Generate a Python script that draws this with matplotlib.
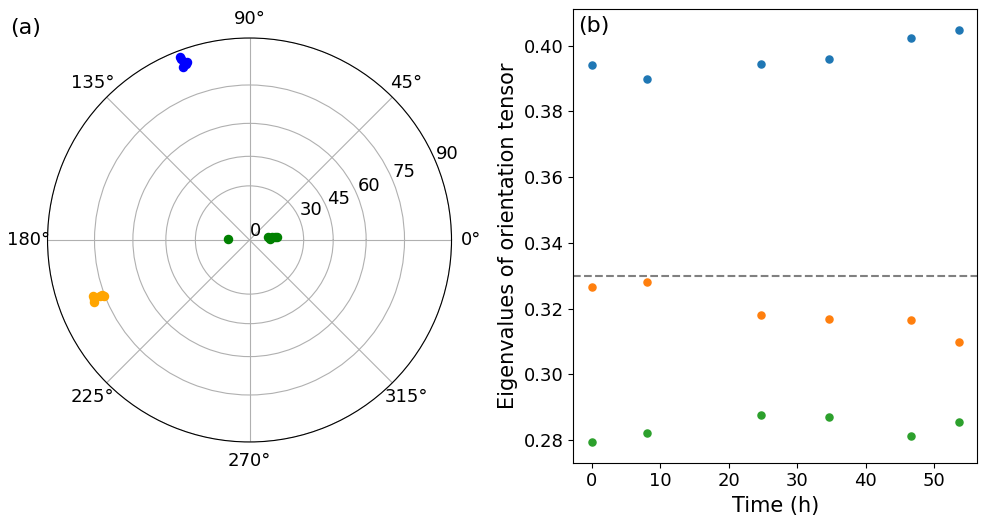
import matplotlib
matplotlib.use("Agg")
import matplotlib.pyplot as plt
import numpy as np

# eigenvector directions (azimuth in degrees, angle from pole in degrees)
v1_azim = [110.8, 110.3, 109.3, 111.0, 110.7, 109.8]
v1_dip = [88.3, 86.0, 86.1, 85.0, 87.6, 85.6]
v2_azim = [199.7, 201.6, 200.4, 201.2, 200.6, 200.4]
v2_dip = [78.8, 79.3, 75.8, 75.4, 79.0, 76.6]
v3_azim = [176.5, 9.1, 2.0, 6.7, 7.7, 5.3]
v3_dip = [12.0, 10.8, 11.6, 14.5, 12.7, 15.3]

r_ticks = [0, 30, 45, 60, 75, 90]

# eigenvalues over time
time_h = [0, 8.1, 24.75, 34.7, 46.6, 53.65]
eig1 = [0.3941, 0.3899, 0.3944, 0.3958, 0.4024, 0.4048]
eig2 = [0.3265, 0.3280, 0.3182, 0.3167, 0.3164, 0.3098]
eig3 = [0.2794, 0.2821, 0.2877, 0.2871, 0.2812, 0.2854]
isotropic = 0.33


def stereo(angle_deg):
    # stereographic projection radius
    return np.tan(np.radians(angle_deg) / 2)


fig = plt.figure(figsize=(9.88, 5.32), dpi=100)

ax1 = fig.add_axes([0.0479, 0.1692, 0.4093, 0.7594], projection="polar")
ax1.scatter(np.radians(v1_azim), stereo(np.array(v1_dip)), color="blue", s=34, zorder=3)
ax1.scatter(np.radians(v2_azim), stereo(np.array(v2_dip)), color="orange", s=34, zorder=3)
ax1.scatter(np.radians(v3_azim), stereo(np.array(v3_dip)), color="green", s=34, zorder=3)
ax1.set_ylim(0, 1)
ax1.set_yticks(stereo(np.array(r_ticks)))
ax1.set_yticklabels([str(t) for t in r_ticks])
ax1.tick_params(labelsize=13)
fig.text(0.010, 0.947, "(a)", fontsize=16, va="center")

ax2 = fig.add_axes([0.5803, 0.1303, 0.4089, 0.8523])
ax2.scatter(time_h, eig1, color="C0", s=26)
ax2.scatter(time_h, eig2, color="C1", s=26)
ax2.scatter(time_h, eig3, color="C2", s=26)
ax2.axhline(isotropic, color="gray", linestyle="--", linewidth=1.5)
ax2.set_xlabel("Time (h)", fontsize=15, labelpad=4)
ax2.set_ylabel("Eigenvalues of orientation tensor", fontsize=15)
ax2.tick_params(labelsize=13)
ax2.text(0.013, 0.985, "(b)", transform=ax2.transAxes, fontsize=16, va="top")

fig.savefig("out.png", dpi=100)
